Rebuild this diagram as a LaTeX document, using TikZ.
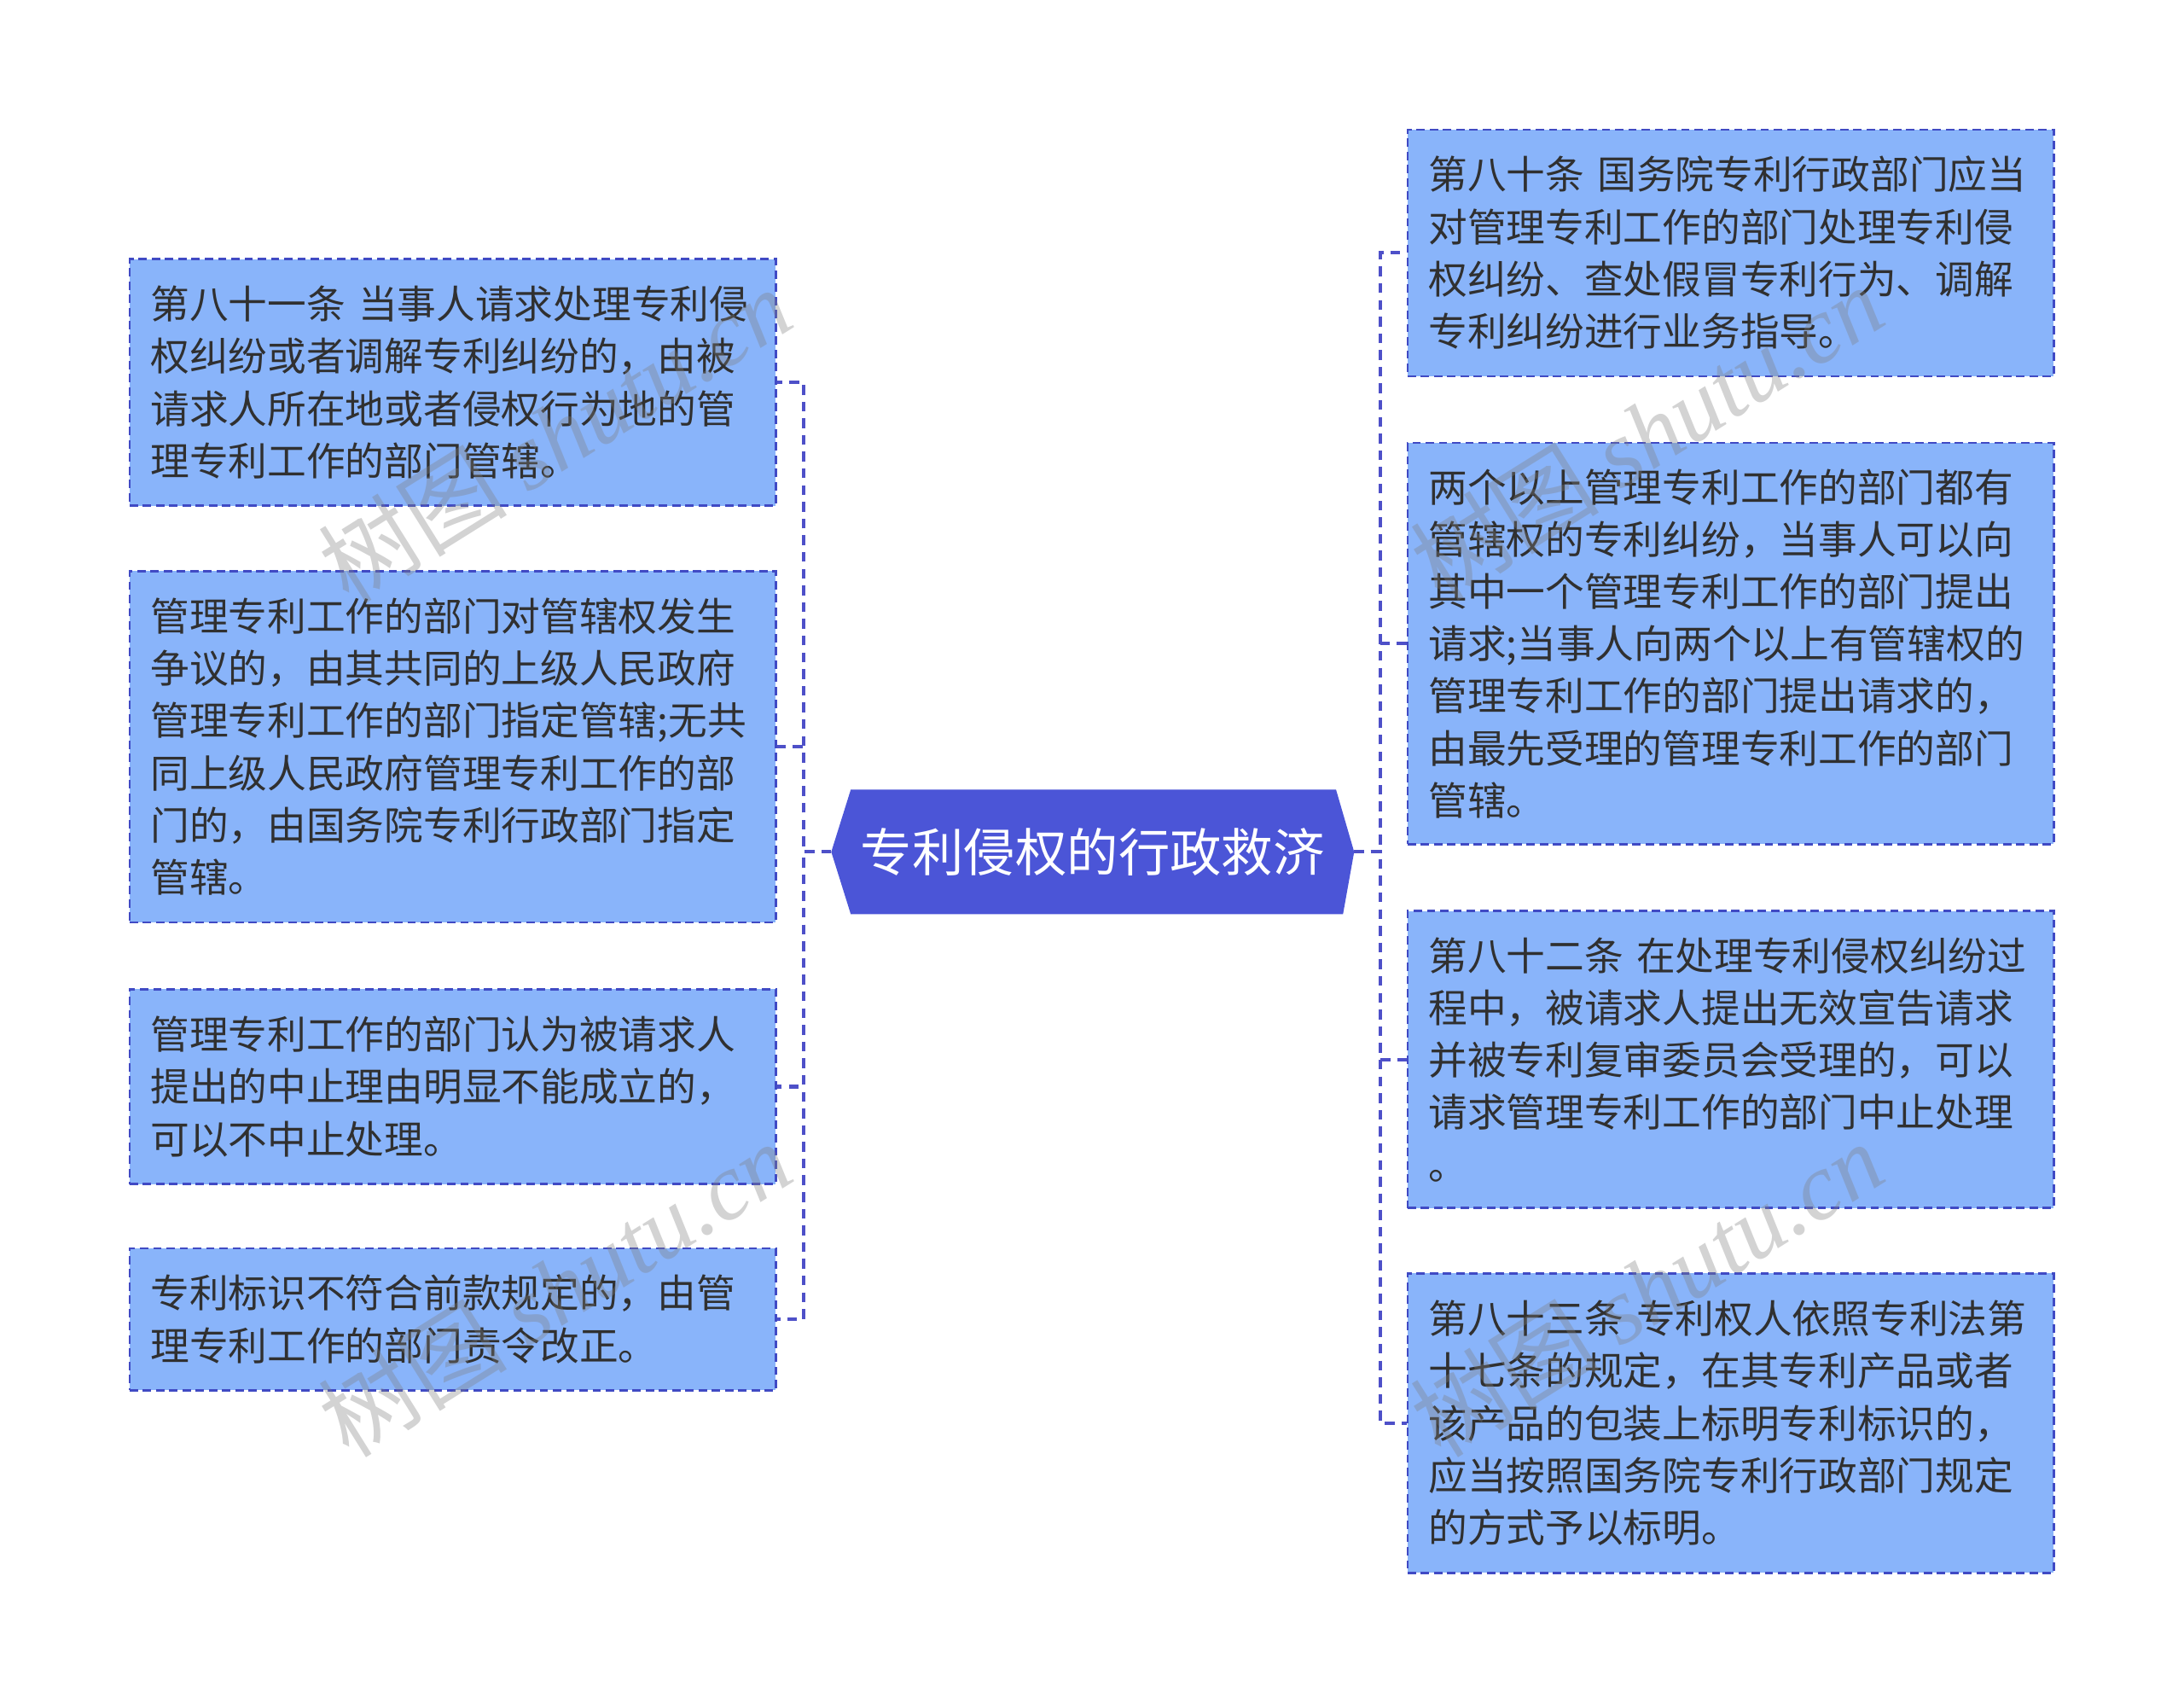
\documentclass[tikz,border=0pt]{standalone}
\usepackage{fontspec}
\setmainfont{Noto Sans CJK SC}
\newfontfamily\wmfont{Liberation Serif}
\usetikzlibrary{backgrounds}
\definecolor{boxfill}{RGB}{137,180,250}
\definecolor{boxline}{RGB}{64,74,196}
\definecolor{linkblue}{RGB}{78,80,200}
\definecolor{rootblue}{RGB}{75,85,215}
\definecolor{textgray}{RGB}{48,48,48}

\begin{document}
\begin{tikzpicture}[x=1pt, y=-1pt,
    leafbox/.style={draw=boxline, fill=boxfill, line width=1.6pt, dash pattern=on 6pt off 3.5pt,
        text=textgray, text width=434pt, align=left, inner xsep=15pt, inner ysep=0pt,
        font=\fontsize{28}{37.5}\selectfont},
    rootbox/.style={text=white, minimum width=375pt, minimum height=89pt, inner sep=0pt,
        font=\fontsize{37}{40}\selectfont},
    linkline/.style={draw=linkblue, line width=2.5pt, dash pattern=on 7pt off 5pt},
    wmark/.style={text=gray, text opacity=0.35, rotate=32, inner sep=0pt,
        font=\fontsize{68}{68}\selectfont}
]
\useasboundingbox (0,0) rectangle (1568,1223);

\node[rootbox] (root) at (784.5,611.5) {专利侵权的行政救济};
\begin{scope}[on background layer]
\fill[rootblue] (root.west) -- ([xshift=14pt]root.north west) -- ([xshift=-13pt]root.north east)
    -- (root.east) -- ([xshift=-8pt]root.south east) -- ([xshift=14pt]root.south west) -- cycle;
\end{scope}

% left side
\node[leafbox, minimum height=177pt] (l1) at (325,274.5) {第八十一条~当事人请求处理专利侵\\权纠纷或者调解专利纠纷的，由被\\请求人所在地或者侵权行为地的管\\理专利工作的部门管辖。};
\node[leafbox, minimum height=252pt] (l2) at (325,536) {管理专利工作的部门对管辖权发生\\争议的，由其共同的上级人民政府\\管理专利工作的部门指定管辖;无共\\同上级人民政府管理专利工作的部\\门的，由国务院专利行政部门指定\\管辖。};
\node[leafbox, minimum height=140pt] (l3) at (325,780) {管理专利工作的部门认为被请求人\\提出的中止理由明显不能成立的，\\可以不中止处理。};
\node[leafbox, minimum height=102pt] (l4) at (325,947) {专利标识不符合前款规定的，由管\\理专利工作的部门责令改正。};

% right side
\node[leafbox, minimum height=177pt] (r1) at (1242.5,181.5) {第八十条~国务院专利行政部门应当\\对管理专利工作的部门处理专利侵\\权纠纷、查处假冒专利行为、调解\\专利纠纷进行业务指导。};
\node[leafbox, minimum height=288pt] (r2) at (1242.5,462) {两个以上管理专利工作的部门都有\\管辖权的专利纠纷，当事人可以向\\其中一个管理专利工作的部门提出\\请求;当事人向两个以上有管辖权的\\管理专利工作的部门提出请求的，\\由最先受理的管理专利工作的部门\\管辖。};
\node[leafbox, minimum height=213pt] (r3) at (1242.5,760.5) {第八十二条~在处理专利侵权纠纷过\\程中，被请求人提出无效宣告请求\\并被专利复审委员会受理的，可以\\请求管理专利工作的部门中止处理\\。};
\node[leafbox, minimum height=215pt] (r4) at (1242.5,1021.5) {第八十三条~专利权人依照专利法第\\十七条的规定，在其专利产品或者\\该产品的包装上标明专利标识的，\\应当按照国务院专利行政部门规定\\的方式予以标明。};

% connectors
\coordinate (lhub) at (577,611.5);
\coordinate (rhub) at (991,611.5);
\foreach \n in {l1,l2,l3,l4}
    \draw[linkline] (root.west) -- (lhub) |- (\n.east);
\foreach \n in {r1,r2,r3,r4}
    \draw[linkline] (root.east) -- (rhub) |- (\n.west);

% watermarks
\node[wmark] (wm1) at (398,312) {树图 {\wmfont\itshape shutu.cn}};
\node[wmark] (wm2) at (398,925) {树图 {\wmfont\itshape shutu.cn}};
\node[wmark] (wm3) at (1182,310) {树图 {\wmfont\itshape shutu.cn}};
\node[wmark] (wm4) at (1182,925) {树图 {\wmfont\itshape shutu.cn}};
\end{tikzpicture}
\end{document}
